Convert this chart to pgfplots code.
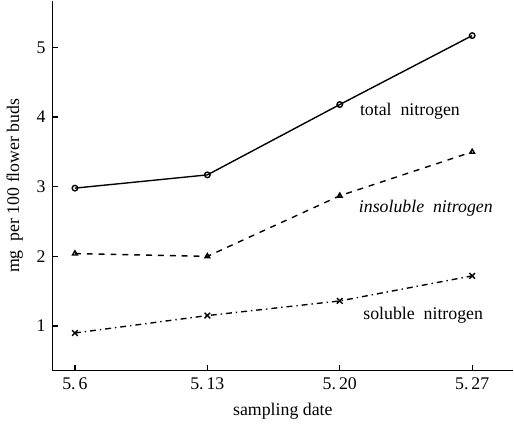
\documentclass[border=0pt]{standalone}
\usepackage{pgfplots}
\pgfplotsset{compat=1.18}
\usepackage{fontspec}
\setmainfont{Liberation Serif}

\begin{document}
\begin{tikzpicture}
\begin{axis}[
    scale only axis,
    width=233pt, height=187pt,
    xmin=-0.17, xmax=3.31,
    ymin=0.36, ymax=5.67,
    axis x line=bottom, axis y line=left,
    axis line style={-, line width=0.8pt},
    xtick={0,1,2,3},
    xticklabels={5.\,6, 5.\,13, 5.\,20, 5.\,27},
    ytick={1,2,3,4,5},
    xtick align=inside, ytick align=inside,
    major tick length=3pt,
    tick style={black, line width=0.6pt},
    tick label style={font=\small},
    /pgf/number format/assume math mode=true,
    xlabel={sampling date},
    ylabel={mg\enspace per 100 flower buds},
    label style={font=\small},
    every axis plot/.append style={black, line width=0.7pt, mark size=1.4pt},
]
\addplot[solid, mark=o] coordinates {(0,2.98) (1,3.17) (2,4.18) (3,5.17)};
\addplot[dashed, mark=triangle, mark options={solid}] coordinates {(0,2.04) (1,2.00) (2,2.87) (3,3.50)};
\addplot[dash dot, mark=x, mark size=2pt, mark options={solid}] coordinates {(0,0.90) (1,1.15) (2,1.36) (3,1.72)};
\node[font=\small] at (axis cs:2.53,4.08) {total\enspace nitrogen};
\node[font=\small\itshape] at (axis cs:2.65,2.69) {insoluble\enspace nitrogen};
\node[font=\small] at (axis cs:2.63,1.15) {soluble\enspace nitrogen};
\end{axis}
\end{tikzpicture}
\end{document}
